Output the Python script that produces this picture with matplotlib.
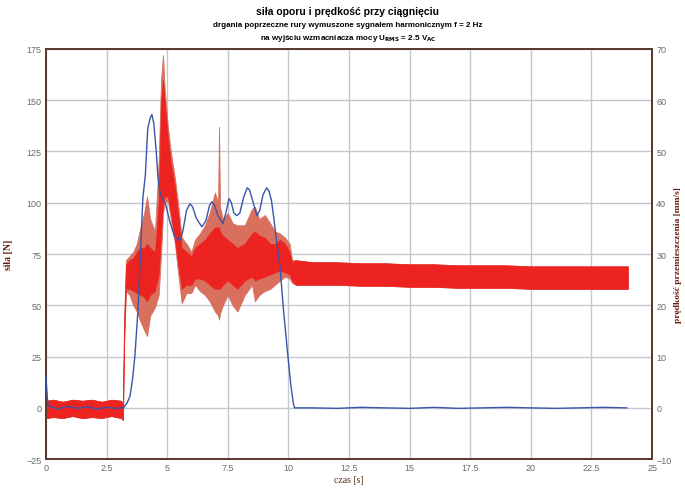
import matplotlib
matplotlib.use('Agg')
import matplotlib.pyplot as plt

plt.rcParams['font.family'] = ['Liberation Sans', 'DejaVu Sans']
plt.rcParams['mathtext.default'] = 'regular'

# predkosc przemieszczenia [mm/s] (niebieska linia, prawa os)
t_v = [0, 0.08, 0.2, 0.5, 0.9, 1.3, 1.7, 2.1, 2.5, 2.9, 3.2, 3.35, 3.47, 3.57, 3.67, 3.8,
       3.9, 4.0, 4.1, 4.2, 4.3, 4.37, 4.45, 4.55, 4.62, 4.7, 4.78, 4.85, 4.95, 5.1, 5.3,
       5.53, 5.65, 5.8, 5.94, 6.05, 6.2, 6.43, 6.6, 6.75, 6.85, 6.95, 7.1, 7.3, 7.42,
       7.55, 7.65, 7.75, 7.87, 8.0, 8.15, 8.3, 8.4, 8.55, 8.7, 8.82, 8.95, 9.1, 9.2,
       9.3, 9.4, 9.5, 9.65, 9.8, 9.98, 10.1, 10.2, 10.25, 11, 12, 13, 14, 15, 16, 17,
       18, 19, 20, 21, 22, 23, 23.95]
v = [6.2, 0.5, 0.2, -0.2, 0.3, -0.1, 0.2, -0.2, 0.1, -0.1, 0.0, 1.0, 2.3, 5.5, 10.1, 19.3,
     30.0, 41.0, 45.3, 54.4, 56.5, 57.2, 55.5, 50.0, 45.0, 42.0, 41.0, 40.4, 39.5, 36.5, 33.5,
     32.6, 34.5, 38.5, 39.8, 39.2, 37.0, 35.3, 36.5, 39.5, 40.2, 39.5, 37.5, 35.9, 38.0,
     40.8, 40.0, 38.0, 37.5, 38.0, 41.0, 42.9, 42.5, 40.0, 37.5, 38.5, 41.5, 42.9, 42.3,
     40.5, 37.0, 33.0, 27.7, 19.0, 10.1, 4.5, 1.0, 0.0, 0.0, -0.1, 0.1, 0.0, -0.1, 0.1, -0.1,
     0.0, 0.1, 0.0, -0.1, 0.0, 0.1, 0.0]

# sila oporu [N] (czerwony sygnal) - obwiednia
t_f = [0, 0.3, 0.7, 1.1, 1.5, 1.9, 2.3, 2.7, 3.1, 3.18, 3.22, 3.3, 3.45, 3.6, 3.75, 3.9,
       4.05, 4.17, 4.3, 4.5, 4.65, 4.75, 4.83, 4.9, 5.03, 5.15, 5.32, 5.45, 5.6, 5.8,
       6.0, 6.15, 6.35, 6.56, 6.75, 6.97, 7.1, 7.14, 7.18, 7.3, 7.5, 7.7, 7.9, 8.2,
       8.5, 8.62, 8.8, 9.03, 9.25, 9.45, 9.65, 9.86, 10.05, 10.15, 10.3, 11, 12, 13,
       14, 15, 16, 17, 18, 19, 20, 21, 22, 23, 24.0]
f_hi = [3.5, 4, 3, 4, 3.5, 4, 3, 4, 3.5, 2, 40, 72, 74, 76, 80, 88,
        95, 103, 92, 86, 120, 160, 172, 155, 137, 125, 112, 100, 83, 80,
        76, 82, 85, 89, 95, 105, 100, 137, 98, 92, 95, 90, 89, 89,
        97, 98, 92, 94, 90, 86, 85, 83, 80, 72, 72, 71, 71, 70.5,
        70.5, 70, 70, 69.5, 69.5, 69.5, 69, 69, 69, 69, 69]
f_lo = [-5, -4.5, -5, -4, -5, -4.5, -5, -4, -5, -6, 30, 57, 55, 50, 47, 42,
        38, 35, 45, 49, 55, 75, 95, 100, 101, 92, 80, 66, 51, 56,
        56, 60, 57, 55, 52, 47, 45, 43, 46, 50, 55, 50, 47, 55,
        60, 52, 55, 57, 58, 60, 62, 64, 63, 61, 60, 60, 60, 59.5,
        59.5, 59, 59, 58.5, 58.5, 58.5, 58, 58, 58, 58, 58]
core_hi = [3.5, 4, 3, 4, 3.5, 4, 3, 4, 3.5, 2, 40, 70, 72, 73, 76, 78,
           78, 80, 78, 76, 100, 150, 160, 150, 132, 120, 108, 95, 78, 76,
           74, 78, 80, 82, 85, 88, 88, 88, 86, 84, 82, 80, 78, 80,
           85, 86, 84, 83, 80, 80, 82, 80, 76, 71, 72, 71, 71, 70.5,
           70.5, 70, 70, 69.5, 69.5, 69.5, 69, 69, 69, 69, 69]
core_lo = [-5, -4.5, -5, -4, -5, -4.5, -5, -4, -5, -6, 30, 58, 58, 57, 56, 55,
           54, 52, 55, 57, 65, 85, 100, 103, 103, 95, 82, 70, 58, 60,
           60, 63, 63, 62, 60, 58, 58, 58, 58, 60, 62, 60, 58, 62,
           64, 62, 63, 64, 65, 66, 67, 66, 65, 62, 60, 60, 60, 59.5,
           59.5, 59, 59, 58.5, 58.5, 58.5, 58, 58, 58, 58, 58]

fig = plt.figure(figsize=(6.85, 4.89), dpi=100)
ax = fig.add_axes([0.067, 0.059, 0.885, 0.839])
ax2 = ax.twinx()

ax.fill_between(t_f, f_lo, f_hi, color='#D9705E', lw=0.6, zorder=2)
ax.fill_between(t_f, core_lo, core_hi, color='#EC2320', lw=0.4, zorder=3)

ax2.plot(t_v, v, color='#3A55A8', lw=1.0, zorder=4)

ax.set_xlim(0, 25)
ax.set_ylim(-25, 175)
ax2.set_ylim(-10, 70)
ax.set_xticks([0, 2.5, 5, 7.5, 10, 12.5, 15, 17.5, 20, 22.5, 25])
ax.set_xticklabels(['0', '2.5', '5', '7.5', '10', '12.5', '15', '17.5', '20', '22.5', '25'])
ax.set_yticks(range(-25, 176, 25))
ax2.set_yticks(range(-10, 71, 10))

ax.grid(True, color='#C2C8CE', lw=1.0)
ax.set_axisbelow(True)
ax2.set_zorder(ax.get_zorder() + 1)
ax2.patch.set_visible(False)

for a in (ax, ax2):
    a.tick_params(labelsize=6.5, colors='#6A6A6A', length=0, pad=3)
    for s in a.spines.values():
        s.set_color('#5A3A2E')
        s.set_linewidth(1.3)

ax.set_xlabel('czas [s]', family='Liberation Serif', fontsize=7, color='#5A2A1E', labelpad=2)
ax.set_ylabel('siła [N]', family='Liberation Serif', fontsize=7, fontweight='bold',
              color='#6B1A10', labelpad=10)
ax2.set_ylabel('prędkość przemieszczenia [mm/s]', family='Liberation Serif', fontsize=6.8,
               fontweight='bold', color='#6B1A10', labelpad=2)

fig.text(0.508, 0.975, 'siła oporu i prędkość przy ciągnięciu', ha='center', va='center',
         fontsize=7.5, fontweight='bold')
fig.text(0.508, 0.948, 'drgania poprzeczne rury wymuszone sygnałem harmonicznym f = 2 Hz',
         ha='center', va='center', fontsize=5.8, fontweight='bold')
fig.text(0.508, 0.921, r'na wyjściu wzmacniacza mocy U$_{\mathbf{RMS}}$ = 2.5 V$_{\mathbf{AC}}$',
         ha='center', va='center', fontsize=5.8, fontweight='bold')

fig.savefig('out.png', dpi=100)
